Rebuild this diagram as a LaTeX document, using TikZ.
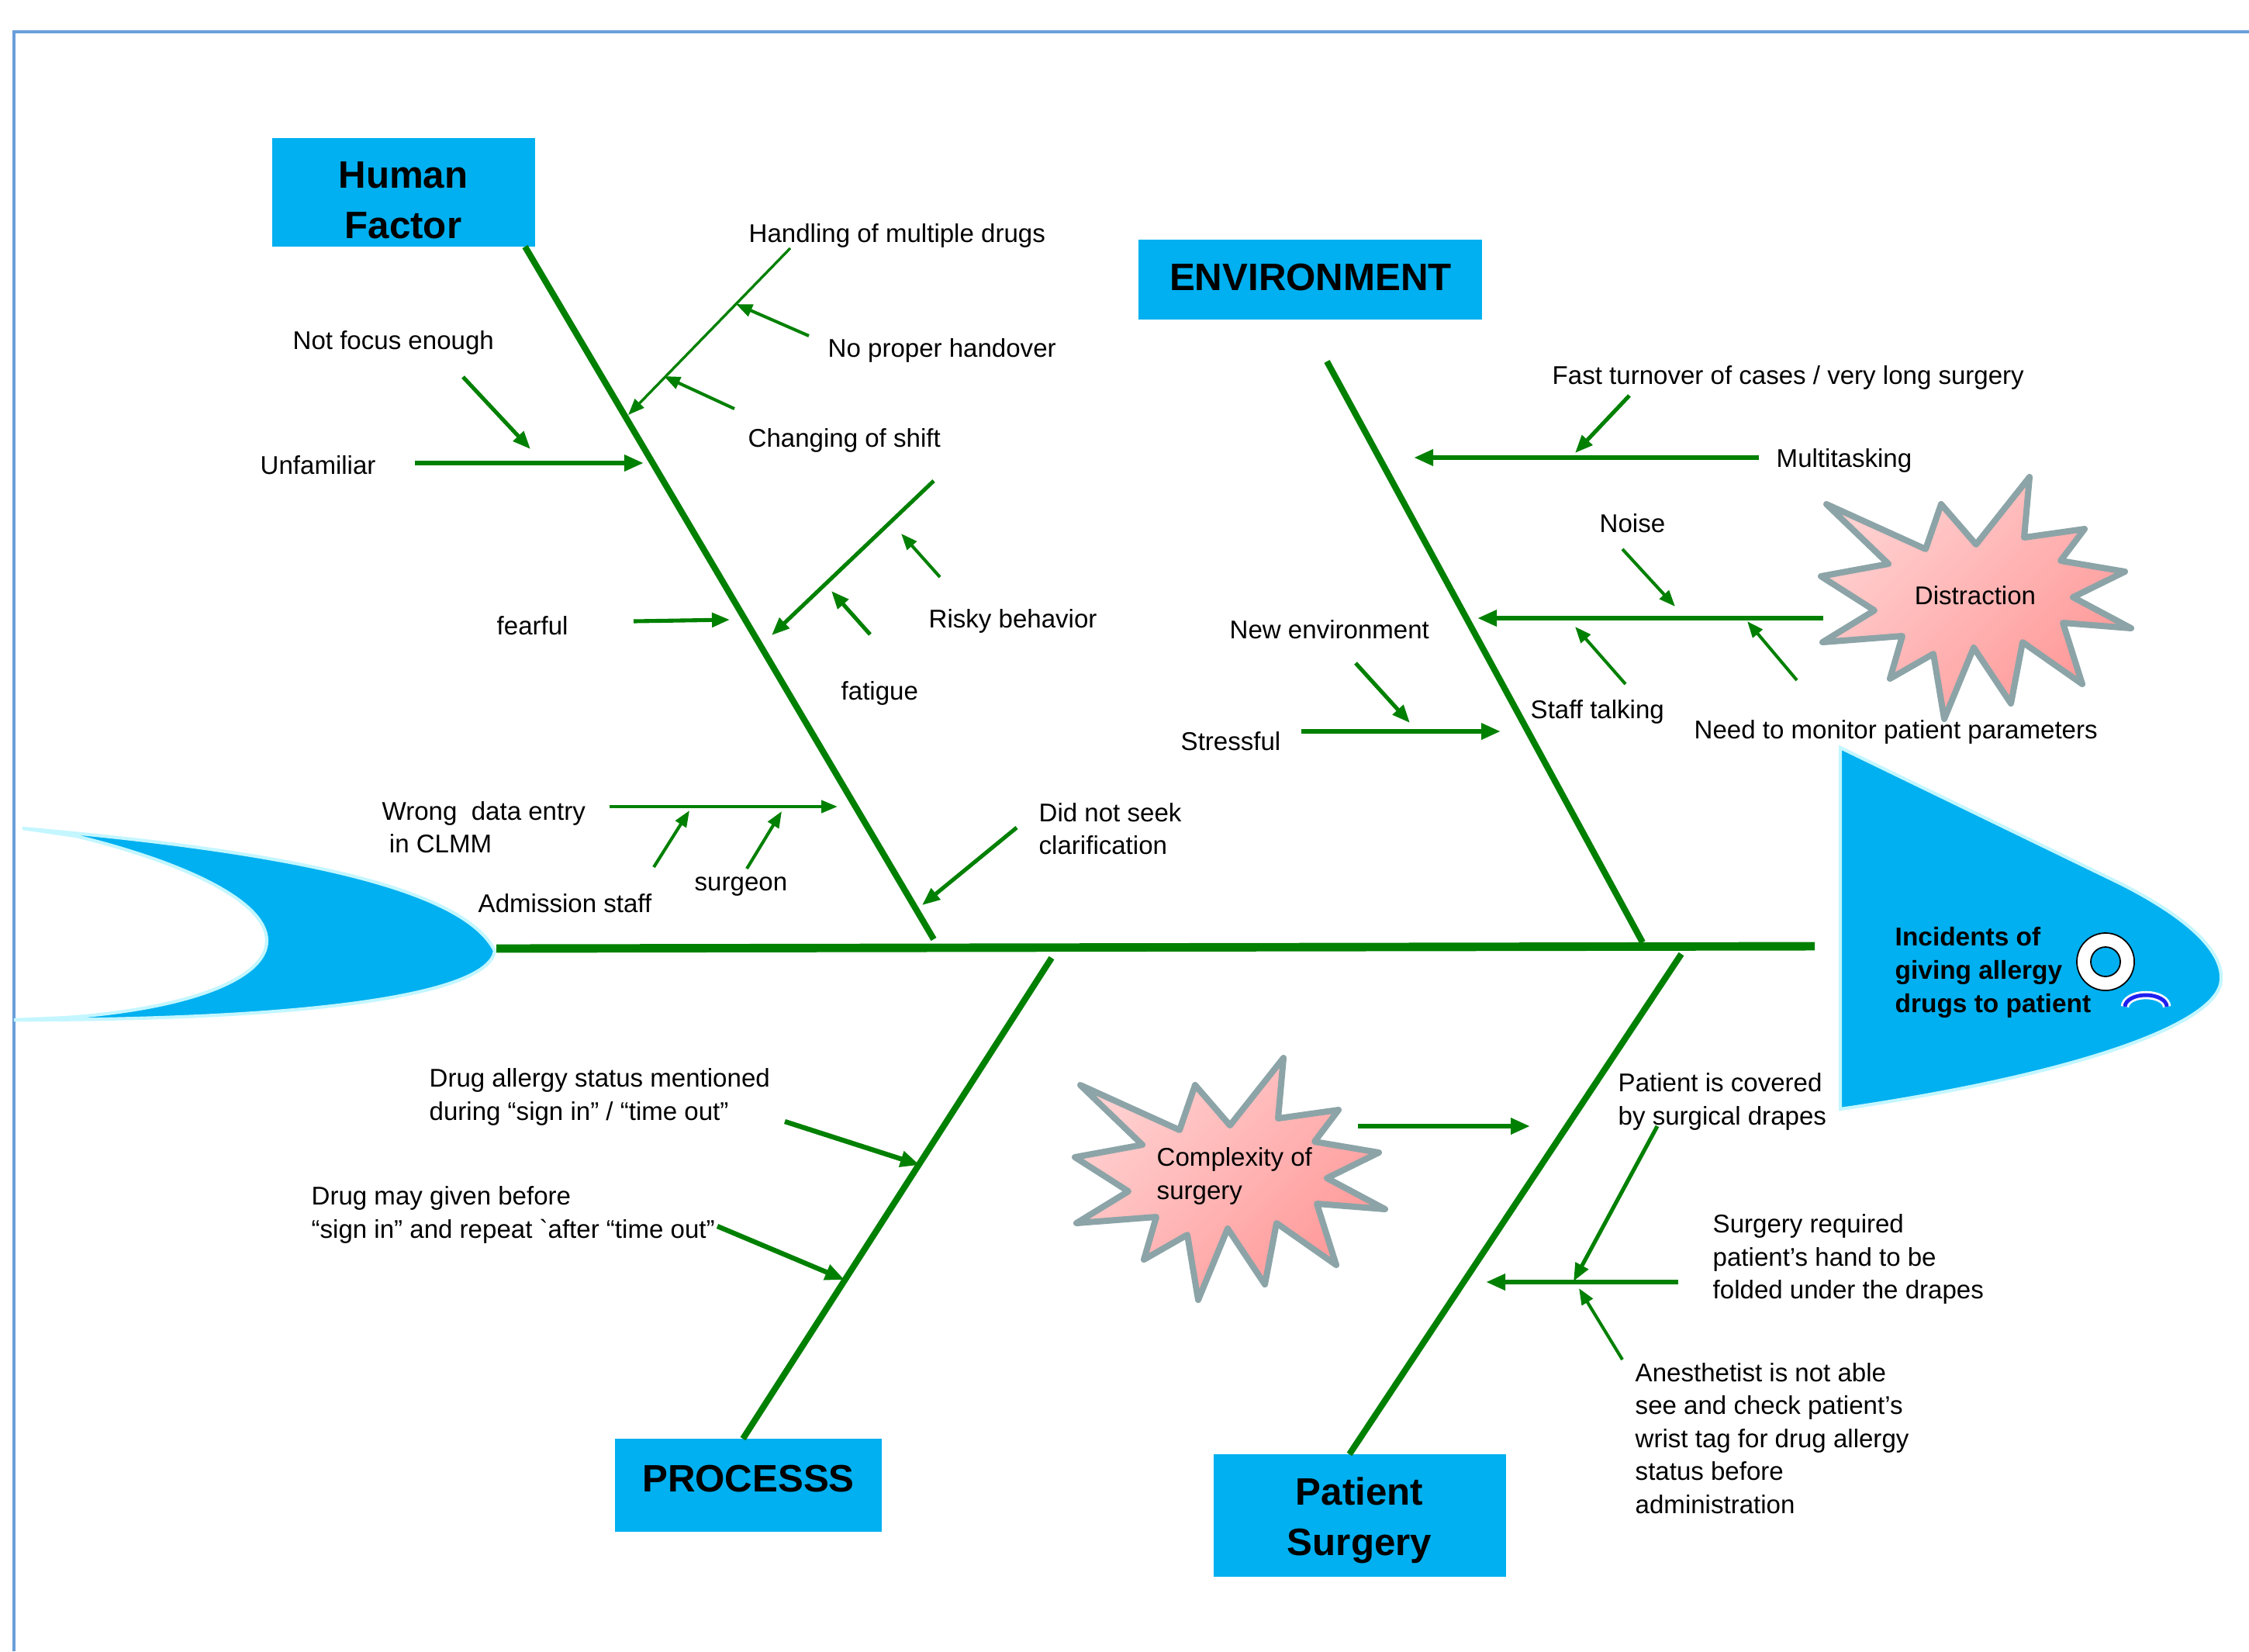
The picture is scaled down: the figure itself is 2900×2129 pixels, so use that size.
\documentclass[tikz,border=0pt]{standalone}
\usepackage{fontspec}
\setmainfont{Liberation Sans}
\usetikzlibrary{arrows.meta}
\definecolor{fgreen}{HTML}{008000}
\definecolor{fcyan}{HTML}{00B0F0}
\definecolor{framec}{HTML}{6A9FDB}
\definecolor{pinkA}{HTML}{FFD0D0}
\definecolor{pinkB}{HTML}{FF9898}
\definecolor{starline}{HTML}{8CA4A7}
\definecolor{halo}{HTML}{C4F6FF}
\definecolor{mouthc}{HTML}{2020F0}
\begin{document}
\begin{tikzpicture}[x=0.01cm,y=-0.01cm,
  lbl/.style={inner sep=0pt, anchor=west, align=left, yshift=-1pt, font=\fontsize{9.4}{12.1}\selectfont},
  cattxt/.style={inner sep=0pt, align=center, font=\bfseries\fontsize{14}{18.5}\selectfont},
  bone/.style={draw=fgreen, line width=2.3pt},
  spine/.style={draw=fgreen, line width=3.1pt},
  arrA/.style={draw=fgreen, line width=1.8pt, -{Triangle[length=0.25cm,width=0.2cm]}},
  arrB/.style={draw=fgreen, line width=1.45pt, -{Triangle[length=0.23cm,width=0.18cm]}},
  arrC/.style={draw=fgreen, line width=1.15pt, -{Triangle[length=0.21cm,width=0.16cm]}},
  burst/.style={draw=starline, line width=0.08cm, line join=round, top color=pinkA, bottom color=pinkB, shading angle=45},
]
\useasboundingbox (0,0) rectangle (2900,2129);
\fill[white] (0,0) rectangle (2900,2129);
% frame
\draw[framec, line width=1.1pt] (18,2129) -- (18,41) -- (2900,41);

% tail
\path[fill=fcyan, draw=halo, line width=1.2pt]
  (29,1068) .. controls (400,1100) and (600,1150) .. (638,1226)
  .. controls (630,1280) and (420,1315) .. (18,1315)
  -- (85,1312) .. controls (250,1300) and (344,1260) .. (344,1213)
  .. controls (344,1160) and (230,1110) .. (98,1078) -- cycle;

% head
\path[fill=fcyan, draw=halo, line width=1.2pt]
  (2373,964) -- (2736,1140) .. controls (2830,1188) and (2866,1230) .. (2864,1263)
  .. controls (2862,1320) and (2680,1385) .. (2373,1430) -- cycle;
\node[lbl, font=\bfseries\fontsize{9.5}{12.2}\selectfont] (tHead) at (2443,1250) {Incidents of\\giving allergy\\drugs to patient};
\coordinate (eye) at (2715,1240);
\path[draw=black, line width=0.5pt, fill=white, even odd rule] (eye) circle[radius=0.37cm] (eye) circle[radius=0.19cm];
\coordinate (mouthL) at (2740,1298);
\draw[white, line width=3pt] (mouthL) arc[start angle=180, end angle=0, x radius=0.27cm, y radius=0.15cm];
\draw[mouthc, line width=1.4pt] (mouthL) arc[start angle=180, end angle=0, x radius=0.27cm, y radius=0.15cm];

% spine
\coordinate (spL) at (640,1223);
\coordinate (spR) at (2340,1220);
\draw[spine] (spL) -- (spR);

% category boxes
\fill[fcyan] (351,178) rectangle (690,318);
\fill[fcyan] (1468,309) rectangle (1911,412);
\fill[fcyan] (793,1855) rectangle (1137,1975);
\fill[fcyan] (1565,1875) rectangle (1942,2033);
\node[cattxt] (hf) at (520,258) {Human\\Factor};
\node[cattxt] (env) at (1690,358) {ENVIRONMENT};
\node[cattxt] (proc) at (965,1907) {PROCESSS};
\node[cattxt] (ps) at (1753,1960) {Patient\\Surgery};

% bones
\coordinate (hfA) at (677,318);   \coordinate (hfB) at (1204,1211);
\coordinate (envA) at (1711,466); \coordinate (envB) at (2118,1215);
\coordinate (procA) at (1356,1235); \coordinate (procB) at (958,1855);
\coordinate (psA) at (2168,1230); \coordinate (psB) at (1740,1875);
\draw[bone] (hfA) -- (hfB);
\draw[bone] (envA) -- (envB);
\draw[bone] (procA) -- (procB);
\draw[bone] (psA) -- (psB);

% ---------- Human factor labels ----------
\node[lbl] (tHand) at (965,300) {Handling of multiple drugs};
\node[lbl] (tNoP) at (1067,448) {No proper handover};
\node[lbl] (tChg) at (964,564) {Changing of shift};
\node[lbl] (tNotF) at (377,438) {Not focus enough};
\node[lbl] (tUnf) at (335,596) {Unfamiliar};
\node[lbl] (tRisky) at (1197,797) {Risky behavior};
\node[lbl] (tFat) at (1084,890) {fatigue};
\node[lbl] (tFear) at (640,803) {fearful};
\node[lbl] (tWrong) at (492,1063) {Wrong\ \ data entry\\\hspace*{0.28em}in CLMM};
\node[lbl] (tAdm) at (616,1161) {Admission staff};
\node[lbl] (tSurg) at (895,1139) {surgeon};
\node[lbl] (tDid) at (1339,1065) {Did not seek\\clarification};

\coordinate (hd1) at (1019,320); \coordinate (hd2) at (810,535);
\coordinate (np1) at (1043,433); \coordinate (np2) at (949,392);
\coordinate (cs1) at (947,527);  \coordinate (cs2) at (856,485);
\coordinate (nf1) at (597,486);  \coordinate (nf2) at (684,579);
\coordinate (un1) at (535,597);  \coordinate (un2) at (830,597);
\coordinate (rb1) at (1204,620); \coordinate (rb2) at (995,819);
\coordinate (rx1) at (1212,744); \coordinate (rx2) at (1162,688);
\coordinate (ry1) at (1122,818); \coordinate (ry2) at (1072,762);
\coordinate (ff1) at (817,801);  \coordinate (ff2) at (941,799);
\coordinate (wd1) at (786,1040); \coordinate (wd2) at (1080,1040);
\coordinate (ad1) at (843,1118); \coordinate (ad2) at (889,1045);
\coordinate (sg1) at (963,1120); \coordinate (sg2) at (1008,1046);
\coordinate (dn1) at (1311,1067); \coordinate (dn2) at (1189,1167);
\draw[arrC, line width=0.95pt] (hd1) -- (hd2);
\draw[arrC] (np1) -- (np2);
\draw[arrC] (cs1) -- (cs2);
\draw[arrB] (nf1) -- (nf2);
\draw[arrA] (un1) -- (un2);
\draw[arrB] (rb1) -- (rb2);
\draw[arrC] (rx1) -- (rx2);
\draw[arrB] (ry1) -- (ry2);
\draw[arrB] (ff1) -- (ff2);
\draw[arrC] (wd1) -- (wd2);
\draw[arrC] (ad1) -- (ad2);
\draw[arrC] (sg1) -- (sg2);
\draw[arrB] (dn1) -- (dn2);

% ---------- Environment ----------
\node[lbl] (tFast) at (2001,483) {Fast turnover of cases / very long surgery};
\node[lbl] (tMulti) at (2290,590) {Multitasking};
\node[lbl] (tNoise) at (2062,671) {Noise};
\node[lbl] (tNew) at (1585,808) {New environment};
\node[lbl] (tStaff) at (1973,914) {Staff talking};
\node[lbl] (tNeed) at (2184,940) {Need to monitor patient parameters};
\node[lbl] (tStress) at (1522,952) {Stressful};

\begin{scope}[shift={(2345,614)}]
\path[burst] (10,36) -- (138,94) -- (158,36) -- (203,88) -- (272,1) -- (265,79) -- (343,68) -- (312,109) -- (395,123) -- (328,156) -- (403,196) -- (315,189) -- (340,268) -- (263,214) -- (248,293) -- (200,221) -- (162,313) -- (148,229) -- (92,261) -- (108,206) -- (5,214) -- (72,173) -- (3,129) -- (90,113) -- cycle;
\end{scope}
\node[lbl, anchor=center] (tDist) at (2547,764) {Distraction};

\coordinate (ft1) at (2101,510); \coordinate (ft2) at (2031,584);
\coordinate (mt1) at (2268,590); \coordinate (mt2) at (1823,590);
\coordinate (ns1) at (2092,708); \coordinate (ns2) at (2160,782);
\coordinate (ds1) at (2351,797); \coordinate (ds2) at (1905,797);
\coordinate (st1) at (2096,882); \coordinate (st2) at (2031,808);
\coordinate (nm1) at (2317,877); \coordinate (nm2) at (2253,801);
\coordinate (ne1) at (1748,855); \coordinate (ne2) at (1818,932);
\coordinate (sf1) at (1678,943); \coordinate (sf2) at (1935,943);
\draw[arrB] (ft1) -- (ft2);
\draw[arrA] (mt1) -- (mt2);
\draw[arrC] (ns1) -- (ns2);
\draw[arrA] (ds1) -- (ds2);
\draw[arrC] (st1) -- (st2);
\draw[arrC] (nm1) -- (nm2);
\draw[arrB] (ne1) -- (ne2);
\draw[arrA] (sf1) -- (sf2);

% ---------- Process ----------
\node[lbl] (tDA) at (553,1411) {Drug allergy status mentioned\\during “sign in” / “time out”};
\node[lbl] (tDM) at (401,1563) {Drug may given before\\“sign in” and repeat \textasciigrave after “time out”};
\coordinate (da1) at (1012,1446); \coordinate (da2) at (1186,1502);
\coordinate (dm1) at (925,1581);  \coordinate (dm2) at (1089,1650);
\draw[arrA] (da1) -- (da2);
\draw[arrA] (dm1) -- (dm2);

% ---------- Patient surgery ----------
\begin{scope}[shift={(1383,1363)}]
\path[burst] (10,36) -- (138,94) -- (158,36) -- (203,88) -- (272,1) -- (265,79) -- (343,68) -- (312,109) -- (395,123) -- (328,156) -- (403,196) -- (315,189) -- (340,268) -- (263,214) -- (248,293) -- (200,221) -- (162,313) -- (148,229) -- (92,261) -- (108,206) -- (5,214) -- (72,173) -- (3,129) -- (90,113) -- cycle;
\end{scope}
\node[lbl] (tCpx) at (1491,1513) {Complexity of\\surgery};
\node[lbl] (tCov) at (2086,1417) {Patient is covered\\by surgical drapes};
\node[lbl] (tSR) at (2208,1620) {Surgery required\\patient’s hand to be\\folded under the drapes};
\node[lbl] (tAn) at (2108,1851) {Anesthetist is not able\\see and check patient’s\\wrist tag for drug allergy\\status before\\administration};

\coordinate (cx1) at (1751,1452); \coordinate (cx2) at (1973,1452);
\coordinate (cv1) at (2137,1452); \coordinate (cv2) at (2029,1652);
\coordinate (sr1) at (2164,1653); \coordinate (sr2) at (1916,1653);
\coordinate (an1) at (2092,1753); \coordinate (an2) at (2036,1661);
\draw[arrA] (cx1) -- (cx2);
\draw[arrB] (cv1) -- (cv2);
\draw[arrA] (sr1) -- (sr2);
\draw[arrC] (an1) -- (an2);
\end{tikzpicture}
\end{document}
